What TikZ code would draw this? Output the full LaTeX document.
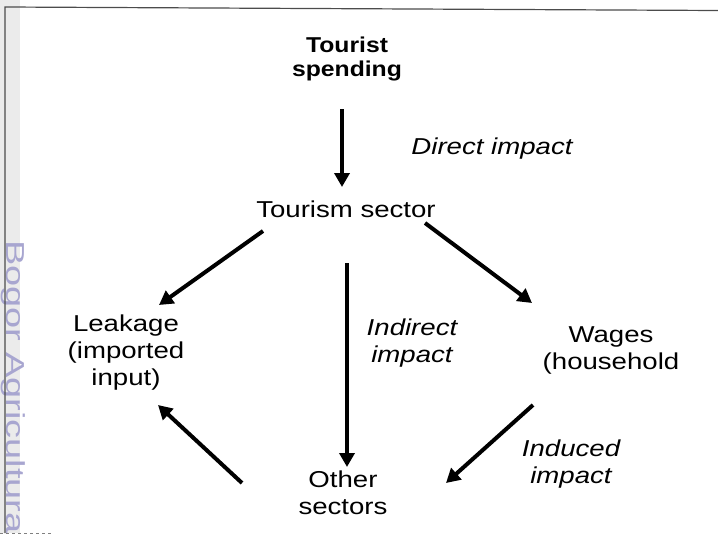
\documentclass[tikz,border=0pt]{standalone}
\usepackage{fontspec}
\setmainfont{Liberation Sans}
\usetikzlibrary{positioning, calc, arrows.meta}

\definecolor{markblue}{RGB}{168,166,208}

\begin{document}
\begin{tikzpicture}[x=1pt, y=-1pt,
    lbl/.style={align=center, inner sep=0pt, xscale=1.2, font=\fontsize{23}{27}\selectfont},
    boldlbl/.style={align=center, inner sep=0pt, xscale=1.15, font=\fontsize{21.5}{24}\selectfont\bfseries},
    impact/.style={lbl, font=\fontsize{23}{27}\selectfont\itshape},
    flow/.style={-{Triangle[length=14pt, width=15pt]}, line width=4pt}]
    \useasboundingbox (0,0) rectangle (718,535);

    % scanned page margin
    \fill[black!8] (0,0) rectangle (20,533);
    \node[text=markblue, rotate=-90, xscale=1.46, anchor=base west, inner sep=0pt, font=\fontsize{26}{28}\selectfont] (mark) at (6,240) {Bogor Agricultura};
    \draw[black!70, line width=1.2pt] (5,533) -- (5,7) -- (718,10.5);
    \draw[black!50, dashed, line width=0.6pt] (0,533) -- (52,533);

    \node[boldlbl] (spend) at (347,58.5) {Tourist\\spending};
    \node[lbl] (tourism) at (346,209) {Tourism sector};
    \node[lbl] (leak) at (126,353) {Leakage\\(imported\\input)};
    \node[lbl] (wages) at (611,350) {Wages\\(household};
    \node[lbl] (other) at (343,492.5) {Other\\sectors};

    \node[impact] (direct) at (492,149) {Direct impact};
    \node[impact] (indirect) at (412,342.6) {Indirect\\impact};
    \node[impact] (induced) at (571,464) {Induced\\impact};

    \draw[flow] ($(spend)+(-5,50.5)$) -- ($(tourism)+(-4,-22)$);
    \draw[flow] ($(tourism)+(-83,22)$) -- ($(leak)+(33,-48)$);
    \draw[flow] ($(tourism)+(79,14)$) -- ($(wages)+(-79,-47)$);
    \draw[flow] ($(tourism)+(1,54)$) -- ($(other)+(4,-25.5)$);
    \draw[flow] ($(wages)+(-78,55)$) -- ($(other)+(103,-9.5)$);
    \draw[flow] ($(other)+(-101,-9.5)$) -- ($(leak)+(32,52)$);

\end{tikzpicture}
\end{document}
